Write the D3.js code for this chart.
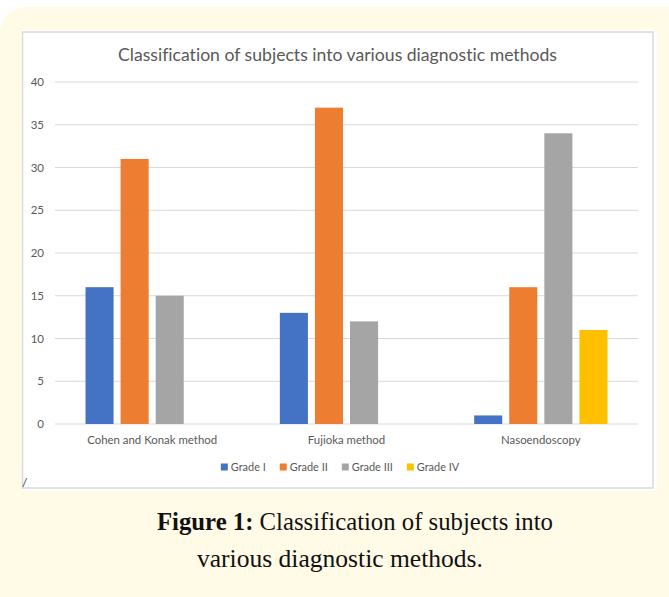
<!DOCTYPE html>
<html>
<head>
<meta charset="utf-8">
<script src="https://cdn.jsdelivr.net/npm/d3@7"></script>
<style>
  html, body { margin: 0; padding: 0; background: #ffffff; }
  svg { display: block; }
  text { font-variant-ligatures: none; font-feature-settings: "liga" 0, "clig" 0; }
</style>
</head>
<body>
<svg id="chart" width="669" height="597"></svg>
<script>
// ---- data ----
const categories = ["Cohen and Konak method", "Fujioka method", "Nasoendoscopy"];
const seriesNames = ["Grade I", "Grade II", "Grade III", "Grade IV"];
const gradeI   = [16, 13, 1];
const gradeII  = [31, 37, 16];
const gradeIII = [15, 12, 34];
const gradeIV  = [0, 0, 11];
const yTicks = [0, 5, 10, 15, 20, 25, 30, 35, 40];
const titleText = "Classification of subjects into various diagnostic methods";
const captionBold = "Figure 1:";
const captionLine1 = " Classification of subjects into";
const captionLine2 = "various diagnostic methods.";

const seriesValues = [gradeI, gradeII, gradeIII, gradeIV];
const colors = ["#4472C4", "#ED7D31", "#A5A5A5", "#FFC000"];

const svg = d3.select("#chart");
const sansFont = "Lato, 'Open Sans', sans-serif";
const serifFont = "'Liberation Serif', 'DejaVu Serif', serif";

// helper: font size that makes text reach a target width
function fitSize(text, family, weight, targetW) {
  const t = svg.append("text").attr("font-family", family).attr("font-weight", weight)
    .attr("font-size", 100).text(text);
  const w = t.node().getComputedTextLength();
  t.remove();
  return 100 * targetW / w;
}

// ---- backgrounds ----
svg.append("rect").attr("x", 0).attr("y", 7).attr("width", 694).attr("height", 620)
  .attr("rx", 26).attr("ry", 26).attr("fill", "#fffbe7");
svg.append("rect").attr("x", 21).attr("y", 30).attr("width", 636).attr("height", 461)
  .attr("fill", "#ffffff");
svg.append("rect").attr("x", 22.5).attr("y", 32).attr("width", 630.5).attr("height", 456)
  .attr("fill", "#ffffff").attr("stroke", "#d9d9d9").attr("stroke-width", 1.5);

// ---- scales ----
const plot = { left: 55, right: 638, top: 82, bottom: 424 };
const y = d3.scaleLinear().domain([0, 40]).range([plot.bottom, plot.top]);
const x0 = d3.scaleBand().domain(categories).range([plot.left, plot.right]).padding(0);
const x1 = d3.scaleBand().domain(seriesNames)
  .range([x0.bandwidth() * 0.157, x0.bandwidth() * 0.843]).paddingInner(0.2);

// ---- gridlines ----
svg.append("g").selectAll("line").data(yTicks).join("line")
  .attr("x1", plot.left).attr("x2", plot.right)
  .attr("y1", d => y(d)).attr("y2", d => y(d))
  .attr("stroke", "#d9d9d9").attr("stroke-width", 1);

// ---- y axis (labels only) ----
const yAxis = d3.axisLeft(y).tickValues(yTicks).tickSize(0).tickPadding(0);
const gy = svg.append("g").attr("transform", "translate(44,0)").call(yAxis);
gy.select(".domain").remove();
gy.selectAll("text").attr("font-family", sansFont).attr("font-size", 11.5)
  .attr("fill", "#595959");

// ---- bars ----
const groups = svg.append("g").selectAll("g").data(categories).join("g")
  .attr("transform", d => `translate(${x0(d)},0)`);
groups.selectAll("rect")
  .data((c, ci) => seriesNames.map((s, si) => ({ s, si, v: seriesValues[si][ci] })))
  .join("rect")
  .attr("x", d => x1(d.s))
  .attr("width", x1.bandwidth())
  .attr("y", d => y(d.v))
  .attr("height", d => y(0) - y(d.v))
  .attr("fill", d => colors[d.si]);

// ---- x axis labels ----
const catSize = fitSize(categories[0], sansFont, 400, 130);
const xAxis = d3.axisBottom(x0).tickSize(0).tickPadding(0);
const gx = svg.append("g").attr("transform", `translate(0,${plot.bottom})`).call(xAxis);
gx.select(".domain").remove();
gx.selectAll("text").attr("font-family", sansFont).attr("font-size", catSize)
  .attr("fill", "#595959").attr("dy", 0).attr("y", 20);

// ---- title ----
const titleSize = fitSize(titleText, sansFont, 400, 439);
svg.append("text").attr("x", 118).attr("y", 61)
  .attr("font-family", sansFont).attr("font-size", titleSize).attr("fill", "#595959")
  .text(titleText);

// ---- legend ----
const legSize = fitSize("Grade I", sansFont, 400, 35);
const leg = svg.append("g");
let lx = 0;
seriesNames.forEach((s, i) => {
  const g = leg.append("g").attr("transform", `translate(${lx},0)`);
  g.append("rect").attr("x", 0).attr("y", -7).attr("width", 7).attr("height", 7)
    .attr("fill", colors[i]);
  const t = g.append("text").attr("x", 10).attr("y", 0)
    .attr("font-family", sansFont).attr("font-size", legSize).attr("fill", "#595959").text(s);
  lx += 10 + t.node().getComputedTextLength() + 14;
});
const legW = lx - 14;
leg.attr("transform", `translate(${340 - legW / 2},470.5)`);

// ---- stray slash ----
svg.append("text").attr("x", 22).attr("y", 487).attr("font-family", sansFont)
  .attr("font-size", 12).attr("fill", "#404040").text("/");

// ---- caption ----
const l2Size = fitSize(captionLine2, serifFont, 400, 286);
const cap1 = svg.append("text").attr("x", 157).attr("y", 530)
  .attr("font-family", serifFont).attr("font-size", l2Size).attr("fill", "#111111");
cap1.append("tspan").attr("font-weight", 700).text(captionBold);
cap1.append("tspan").text(captionLine1);
const w1 = cap1.node().getComputedTextLength();
cap1.attr("font-size", l2Size * 396 / w1);
svg.append("text").attr("x", 197).attr("y", 567)
  .attr("font-family", serifFont).attr("font-size", l2Size).attr("fill", "#111111")
  .text(captionLine2);
</script>
</body>
</html>
